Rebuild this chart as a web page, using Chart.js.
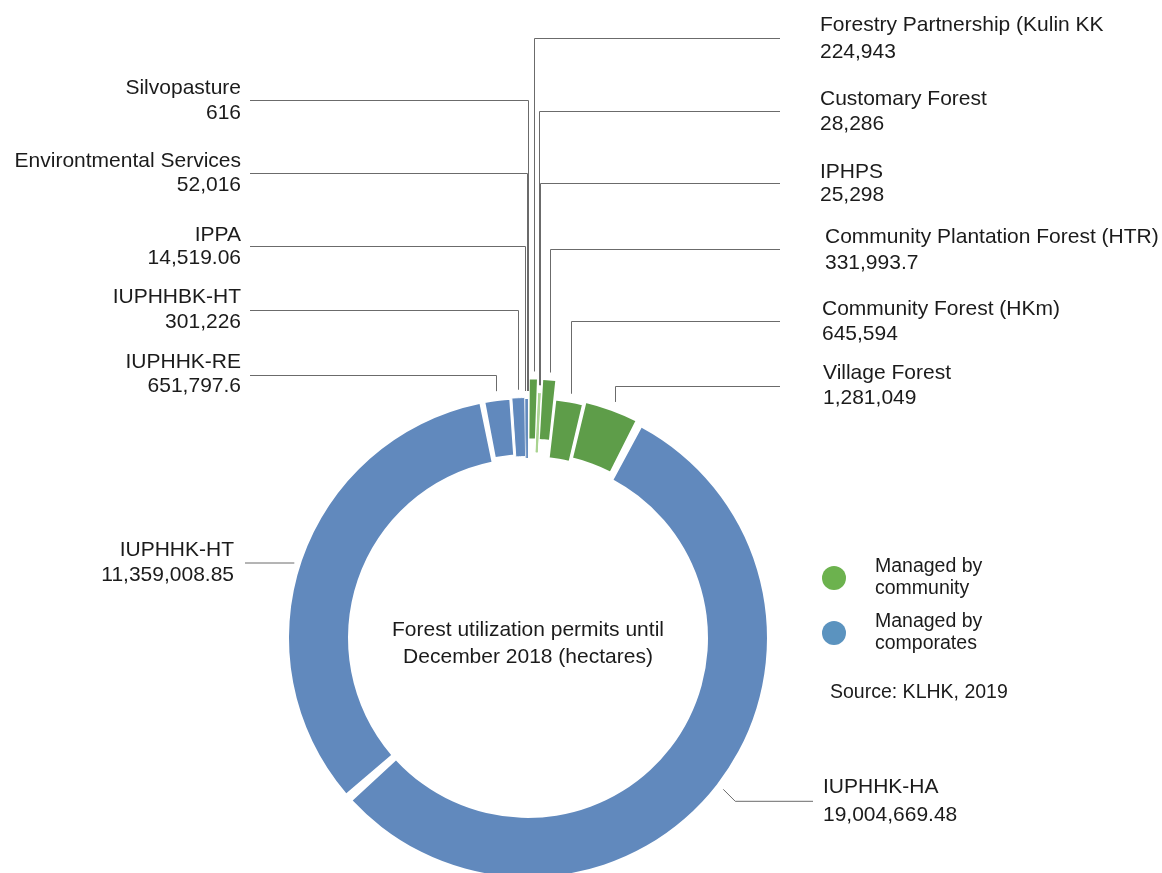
<!DOCTYPE html>
<html>
<head>
<meta charset="utf-8">
<title>Forest utilization permits</title>
<script src="https://cdn.jsdelivr.net/npm/chart.js@4.4.1/dist/chart.umd.min.js"></script>
<style>
    html, body { margin: 0; padding: 0; background: #ffffff; }
    #wrap { position: relative; width: 1162px; height: 873px; }
</style>
</head>
<body>
<div id="wrap"><canvas id="permitChart"></canvas></div>
<script>
// Permit categories, clockwise from 12 o'clock
const permitLabels = [
    'Forestry Partnership (Kulin KK',
    'Customary Forest',
    'IPHPS',
    'Community Plantation Forest (HTR)',
    'Community Forest (HKm)',
    'Village Forest',
    'IUPHHK-HA',
    'IUPHHK-HT',
    'IUPHHK-RE',
    'IUPHHBK-HT',
    'IPPA',
    'Environtmental Services',
    'Silvopasture'
];
// Area in hectares
const permitAreas = [224943, 28286, 25298, 331993.7, 645594, 1281049, 19004669.48, 11359008.85, 651797.6, 301226, 14519.06, 52016, 616];
const managedBy = ['community', 'community', 'community', 'community', 'community', 'community',
    'corporates', 'corporates', 'corporates', 'corporates', 'corporates', 'corporates', 'corporates'];
const legendLabels = ['Managed by community', 'Managed by comporates'];
const centerTitle = ['Forest utilization permits until', 'December 2018 (hectares)'];
const sourceNote = 'Source: KLHK, 2019';

const FONT = "'Liberation Sans', Arial, Helvetica, sans-serif";
const groupColor = { community: '#5e9d49', corporates: '#6189bd' };
const legendColor = { community: '#6cb24e', corporates: '#5b93bf' };

// how far each slice sticks out of the ring (chart.js offset, px)
// the two tiny ones can't take a big offset or chart.js flips the arc
const sliceOffset = [40, 12, 12, 40, 2, 10, 0, 0, 4, 3, 0, 0, 0];
const sliceBorder = [0, 1, 1, 0, 2, 3, 0, 0, 4, 1, 0, 0, 0];
const sliceBorderColor = ['#ffffff', '#a9d38f', '#a9d38f', '#ffffff', '#ffffff', '#ffffff', '#ffffff',
    '#ffffff', '#ffffff', '#ffffff', '#ffffff', '#ffffff', '#ffffff'];
const SPACING = 6;

// label layout: text x, name line y, value line y, connector y
const labelX = [820, 820, 820, 825, 822, 823, 823, 234, 241, 241, 241, 241, 241];
const nameY = [25, 99, 172, 237, 309, 373, 787, 550, 362, 297, 235, 161, 88];
const valueY = [52, 124, 195, 263, 334, 398, 815, 575, 386, 322, 258, 185, 113];
const lineY = [38, 111, 183, 249, 321, 386, 0, 563, 375, 310, 246, 173, 100];

function fmt(v) {
    return v.toLocaleString('en-US', { maximumFractionDigits: 2 });
}

// where the drawn slice really sits (offset moves it outwards)
function slicePoint(el, i, extra) {
    const p = el.getProps(['x', 'y', 'startAngle', 'endAngle', 'outerRadius'], true);
    const mid = (p.startAngle + p.endAngle) / 2;
    const o = sliceOffset[i] / 4;
    const fix = 1 - Math.sin(Math.min(Math.PI, p.endAngle - p.startAngle));
    const r = p.outerRadius + SPACING / 2 + o + o * fix + extra;
    return { x: p.x + Math.cos(mid) * r, y: p.y + Math.sin(mid) * r, cx: p.x, cy: p.y };
}

const calloutPlugin = {
    id: 'callouts',
    afterDatasetsDraw(chart) {
        const ctx = chart.ctx;
        const meta = chart.getDatasetMeta(0);
        ctx.save();
        ctx.strokeStyle = '#6b6b6b';
        ctx.lineWidth = 1;
        ctx.fillStyle = '#1b1b1b';
        ctx.font = '21px ' + FONT;
        ctx.textBaseline = 'middle';

        meta.data.forEach((el, i) => {
            const right = labelX[i] > 500;
            ctx.beginPath();
            if (i === 6) {
                // big slice bottom right: short diagonal then across
                const p = slicePoint(el, i, 8);
                ctx.moveTo(p.x, p.y);
                ctx.lineTo(p.x + 12, p.y + 12);
                ctx.lineTo(813, p.y + 12);
            } else if (i === 7) {
                const p = slicePoint(el, i, 8);
                ctx.moveTo(245, lineY[i]);
                ctx.lineTo(p.x, lineY[i]);
            } else {
                const p = slicePoint(el, i, 8);
                const x = Math.round(p.x) + 0.5;
                ctx.moveTo(right ? 780 : 250, lineY[i] + 0.5);
                ctx.lineTo(x, lineY[i] + 0.5);
                ctx.lineTo(x, p.y);
            }
            ctx.stroke();

            ctx.textAlign = right ? 'left' : 'right';
            ctx.fillText(permitLabels[i], labelX[i], nameY[i]);
            ctx.fillText(fmt(permitAreas[i]), labelX[i], valueY[i]);
        });

        // title in the hole
        const c = slicePoint(meta.data[0], 0, 0);
        ctx.textAlign = 'center';
        ctx.fillText(centerTitle[0], c.cx, 630);
        ctx.fillText(centerTitle[1], c.cx, 657);

        // legend
        ctx.font = '19.5px ' + FONT;
        ctx.textAlign = 'left';
        ['community', 'corporates'].forEach((g, k) => {
            const y0 = 578 + k * 55;
            ctx.fillStyle = legendColor[g];
            ctx.beginPath();
            ctx.arc(834, y0, 12, 0, Math.PI * 2);
            ctx.fill();
            ctx.fillStyle = '#1b1b1b';
            const words = legendLabels[k].split(' ');
            ctx.fillText(words.slice(0, 2).join(' '), 875, y0 - 11);
            ctx.fillText(words.slice(2).join(' '), 875, y0 + 11);
        });
        ctx.fillText(sourceNote, 830, 693);
        ctx.restore();
    }
};

const ctx = document.getElementById('permitChart').getContext('2d');
const permitChart = new Chart(ctx, {
    type: 'doughnut',
    data: {
        labels: permitLabels,
        datasets: [{
            data: permitAreas,
            backgroundColor: managedBy.map(g => groupColor[g]),
            borderColor: sliceBorderColor,
            borderWidth: sliceBorder,
            offset: sliceOffset,
            hoverOffset: 0,
            spacing: SPACING
        }]
    },
    options: {
        responsive: true,
        maintainAspectRatio: false,
        animation: false,
        radius: 236,
        cutout: '75%',
        rotation: 0,
        layout: { padding: { left: 0, right: 106, top: 403, bottom: 0 } },
        plugins: {
            legend: { display: false },
            tooltip: { enabled: false }
        }
    },
    plugins: [calloutPlugin]
});
</script>
</body>
</html>
